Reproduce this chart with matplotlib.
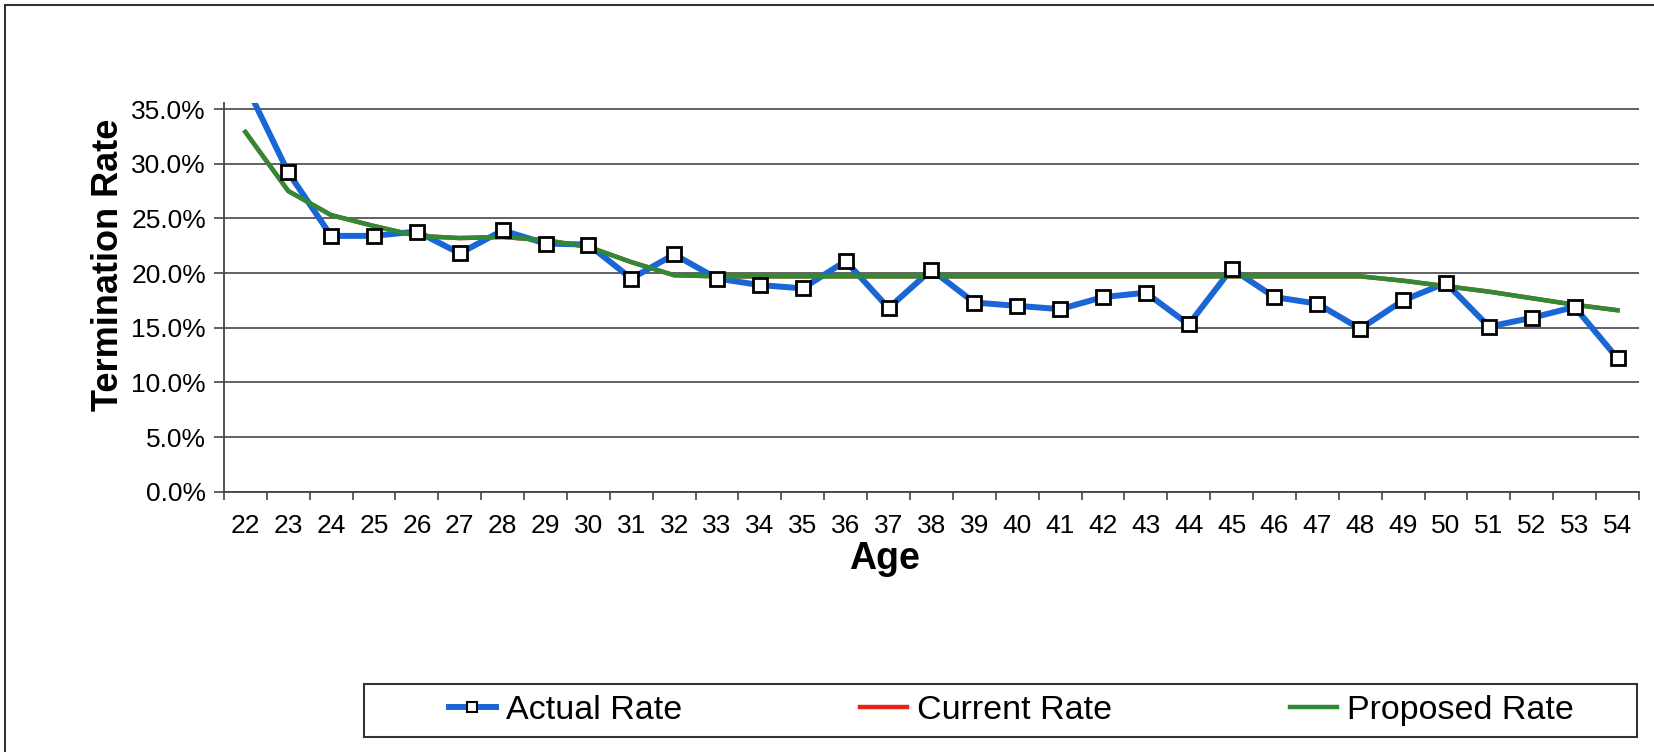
import matplotlib as mpl
mpl.use('Agg')
import numpy as np
import matplotlib.pyplot as plt
from matplotlib.patches import Rectangle
from matplotlib.lines import Line2D
from matplotlib.ticker import PercentFormatter

plt.rcParams['font.family'] = ['Liberation Sans', 'DejaVu Sans']

ages = list(range(22, 55))
# rates in percent
actual_rate = [37.3, 29.2, 23.4, 23.4, 23.8, 21.8, 23.9, 22.7, 22.6, 19.5, 21.7,
               19.5, 18.9, 18.6, 21.1, 16.8, 20.3, 17.3, 17.0, 16.7, 17.8, 18.2,
               15.3, 20.4, 17.8, 17.2, 14.9, 17.5, 19.1, 15.1, 15.9, 16.9, 12.2]
proposed_rate = [32.9, 27.5, 25.3, 24.3, 23.4, 23.2, 23.3, 23.0, 22.4, 21.0, 19.8,
                 19.7, 19.7, 19.7, 19.7, 19.7, 19.7, 19.7, 19.7, 19.7, 19.7, 19.7,
                 19.7, 19.7, 19.7, 19.7, 19.7, 19.3, 18.8, 18.3, 17.7, 17.1, 16.6]
# current rate is hidden under the proposed rate in the scan
current_rate = list(proposed_rate)

blue = '#1a66d6'
green = '#2f8a34'
red = '#e8221b'

fig = plt.figure(figsize=(16.54, 7.52), dpi=100)
ax = fig.add_axes([0.1354, 0.3461, 0.8555, 0.5169])

x = np.arange(len(ages))
act = np.array(actual_rate) / 100
ax.plot(x, np.array(current_rate) / 100, color=red, lw=3.2, zorder=2)
ax.plot(x, act, color=blue, lw=4.3, zorder=2.5, solid_joinstyle='round')
ax.plot(x, np.array(proposed_rate) / 100, color=green, lw=3.2, zorder=3)
ax.plot(x, act, ls='none', marker='s', ms=10, mfc='white', mec='black', mew=2, zorder=4)

ax.set_xlim(-0.5, len(ages) - 0.5)
ax.set_ylim(0, 0.3555)
ax.set_xticks(x)
ax.set_xticklabels([str(a) for a in ages])
ax.set_xticks(np.arange(-0.5, len(ages), 1), minor=True)
ax.tick_params(axis='x', which='major', length=0, pad=16, labelsize=19)
ax.tick_params(axis='x', which='minor', length=6, width=1.2, color='#444', direction='out')
ax.set_yticks(np.arange(0, 0.351, 0.05))
ax.yaxis.set_major_formatter(PercentFormatter(1.0, decimals=1))
ax.tick_params(axis='y', length=7, width=1.2, color='#444', pad=6, labelsize=19)
ax.yaxis.grid(True, color='#555555', lw=1.3)
ax.set_axisbelow(True)
for s in ['top', 'right']:
    ax.spines[s].set_visible(False)
for s in ['left', 'bottom']:
    ax.spines[s].set_color('#444444')
    ax.spines[s].set_linewidth(1.3)

ax.set_ylabel('Termination Rate', fontsize=26, fontweight='bold')
ax.yaxis.set_label_coords(-0.069, 0.585)
ax.set_xlabel('Age', fontsize=27, fontweight='bold')
ax.xaxis.set_label_coords(0.467, -0.128)

# outer chart frame
fig.patches.append(Rectangle((0.003, -0.2), 1.2, 1.2 - 0.0067, transform=fig.transFigure,
                             fill=False, edgecolor='#333333', lw=1.5))
# legend box
fig.patches.append(Rectangle((364 / 1654, 1 - 737 / 752), (1637 - 364) / 1654, 53 / 752,
                             transform=fig.transFigure, fill=False, edgecolor='#333333', lw=1.5))

handles = [
    Line2D([], [], color=blue, lw=4.3, marker='s', ms=7, mfc='white', mec='black', mew=1.5),
    Line2D([], [], color=red, lw=3.2),
    Line2D([], [], color=green, lw=3.2),
]
fig.legend(handles, ['Actual Rate', 'Current Rate', 'Proposed Rate'],
           loc='center', bbox_to_anchor=(0.6115, 0.0552), ncol=3, frameon=False,
           fontsize=24.5, handlelength=1.4, handletextpad=0.3, columnspacing=5.2)

fig.savefig('out.png', dpi=100)
